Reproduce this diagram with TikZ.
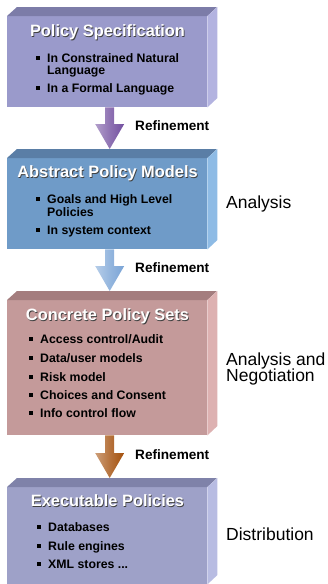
\documentclass[tikz,border=0pt]{standalone}
\usepackage{fontspec}
\setmainfont{Liberation Sans}
\usetikzlibrary{calc}
\definecolor{p1f}{HTML}{9A9ACB}\definecolor{p1t}{HTML}{7C7CA8}\definecolor{p1s}{HTML}{B3B3E0}
\definecolor{p2f}{HTML}{6F9BC8}\definecolor{p2t}{HTML}{5A7EA6}\definecolor{p2s}{HTML}{8EBBE5}
\definecolor{p3f}{HTML}{C49A9A}\definecolor{p3t}{HTML}{A47D7E}\definecolor{p3s}{HTML}{DDB1B1}
\definecolor{p4f}{HTML}{9EA1C8}\definecolor{p4t}{HTML}{7F82A9}\definecolor{p4s}{HTML}{B8BCE2}
\definecolor{a1}{HTML}{7350A0}\definecolor{a2}{HTML}{7AA4D6}\definecolor{a3}{HTML}{A4500C}
\tikzset{
  front/.style={inner sep=0pt, minimum width=200pt, anchor=north west},
  titletext/.style={font=\fontsize{16.4}{19}\selectfont\bfseries, anchor=base, inner sep=0pt},
  bullettext/.style={font=\fontsize{12.3}{14}\selectfont\bfseries, anchor=base west, inner sep=0pt},
  sidelabel/.style={font=\fontsize{17.5}{20}\selectfont, anchor=base west, inner sep=0pt},
  refine/.style={font=\fontsize{13.6}{16}\selectfont\bfseries, anchor=base west, inner sep=0pt},
  bulletmark/.style={fill=black, inner sep=0pt, minimum size=3.6pt},
}
\newcommand\policybox[6]{% name, top, height, front, topcol, side
  \node[front, fill=#4, minimum height=#3pt] (#1) at (7,#2) {};
  \fill[#5] (#1.north west) -- ++(10pt,9pt) -- ++(200pt,0) -- (#1.north east) -- cycle;
  \fill[#6] (#1.north east) -- ++(10pt,9pt) -- ++(0,-#3pt) -- (#1.south east) -- cycle;
}
\newcommand\blockarrow[3]{%
  \shade[left color=#3!55!white, right color=#3, middle color=#3!80!white]
    let \p1=(#1.south), \p2=(#2.north) in
    (\x1-2pt,\y1) -- (\x1+7pt,\y1) -- (\x1+7pt,\y2+34pt) -- (\x1+17pt,\y2+34pt)
    -- (\x1+2.5pt,\y2+9pt) -- (\x1-12pt,\y2+34pt) -- (\x1-2pt,\y2+34pt) -- cycle;
}
\newcommand\boxtitle[3]{% name, y, text
  \node[titletext, text=black!75] (#1s) at (108.3,#2+1.1) {#3};
  \node[titletext, text=white] (#1) at (107.5,#2) {#3};
}
\newcommand\bul[4]{% name, x, baseline y, text
  \node[bulletmark] (#1m) at (#2-9,#3-4.3) {};
  \node[bullettext] (#1) at (#2,#3) {#4};
}
\begin{document}
\begin{tikzpicture}[x=1pt,y=-1pt]
\useasboundingbox (0,0) rectangle (327,584);
\policybox{box1}{16}{91}{p1f}{p1t}{p1s}
\policybox{box2}{158}{91}{p2f}{p2t}{p2s}
\policybox{box3}{300}{135}{p3f}{p3t}{p3s}
\policybox{box4}{487}{97}{p4f}{p4t}{p4s}
\blockarrow{box1}{box2}{a1}
\blockarrow{box2}{box3}{a2}
\blockarrow{box3}{box4}{a3}
% box 1
\boxtitle{t1}{36}{Policy Specification}
\bul{b11}{47}{62.5}{In Constrained Natural}
\node[bullettext] (b11b) at (47,74.2) {Language};
\bul{b12}{47}{92.3}{In a Formal Language}
% box 2
\boxtitle{t2}{177.7}{Abstract Policy Models}
\bul{b21}{47}{203.5}{Goals and High Level}
\node[bullettext] (b21b) at (47,216.5) {Policies};
\bul{b22}{47}{234.5}{In system context}
% box 3
\boxtitle{t3}{320}{Concrete Policy Sets}
\bul{b31}{40}{343.5}{Access control/Audit}
\bul{b32}{40}{362.3}{Data/user models}
\bul{b33}{40}{381}{Risk model}
\bul{b34}{40}{399.5}{Choices and Consent}
\bul{b35}{40}{417.5}{Info control flow}
% box 4
\boxtitle{t4}{506}{Executable Policies}
\bul{b41}{48}{531.5}{Databases}
\bul{b42}{48}{550}{Rule engines}
\bul{b43}{48}{568.5}{XML stores ...}
% refinement labels
\node[refine] (r1) at (135,130.7) {Refinement};
\node[refine] (r2) at (135,272.7) {Refinement};
\node[refine] (r3) at (135,459) {Refinement};
% side labels
\node[sidelabel] (s1) at (226,208.5) {Analysis};
\node[sidelabel] (s2) at (226,365) {Analysis and};
\node[sidelabel] (s2b) at (226,381.7) {Negotiation};
\node[sidelabel] (s3) at (226,540.7) {Distribution};
\end{tikzpicture}
\end{document}
